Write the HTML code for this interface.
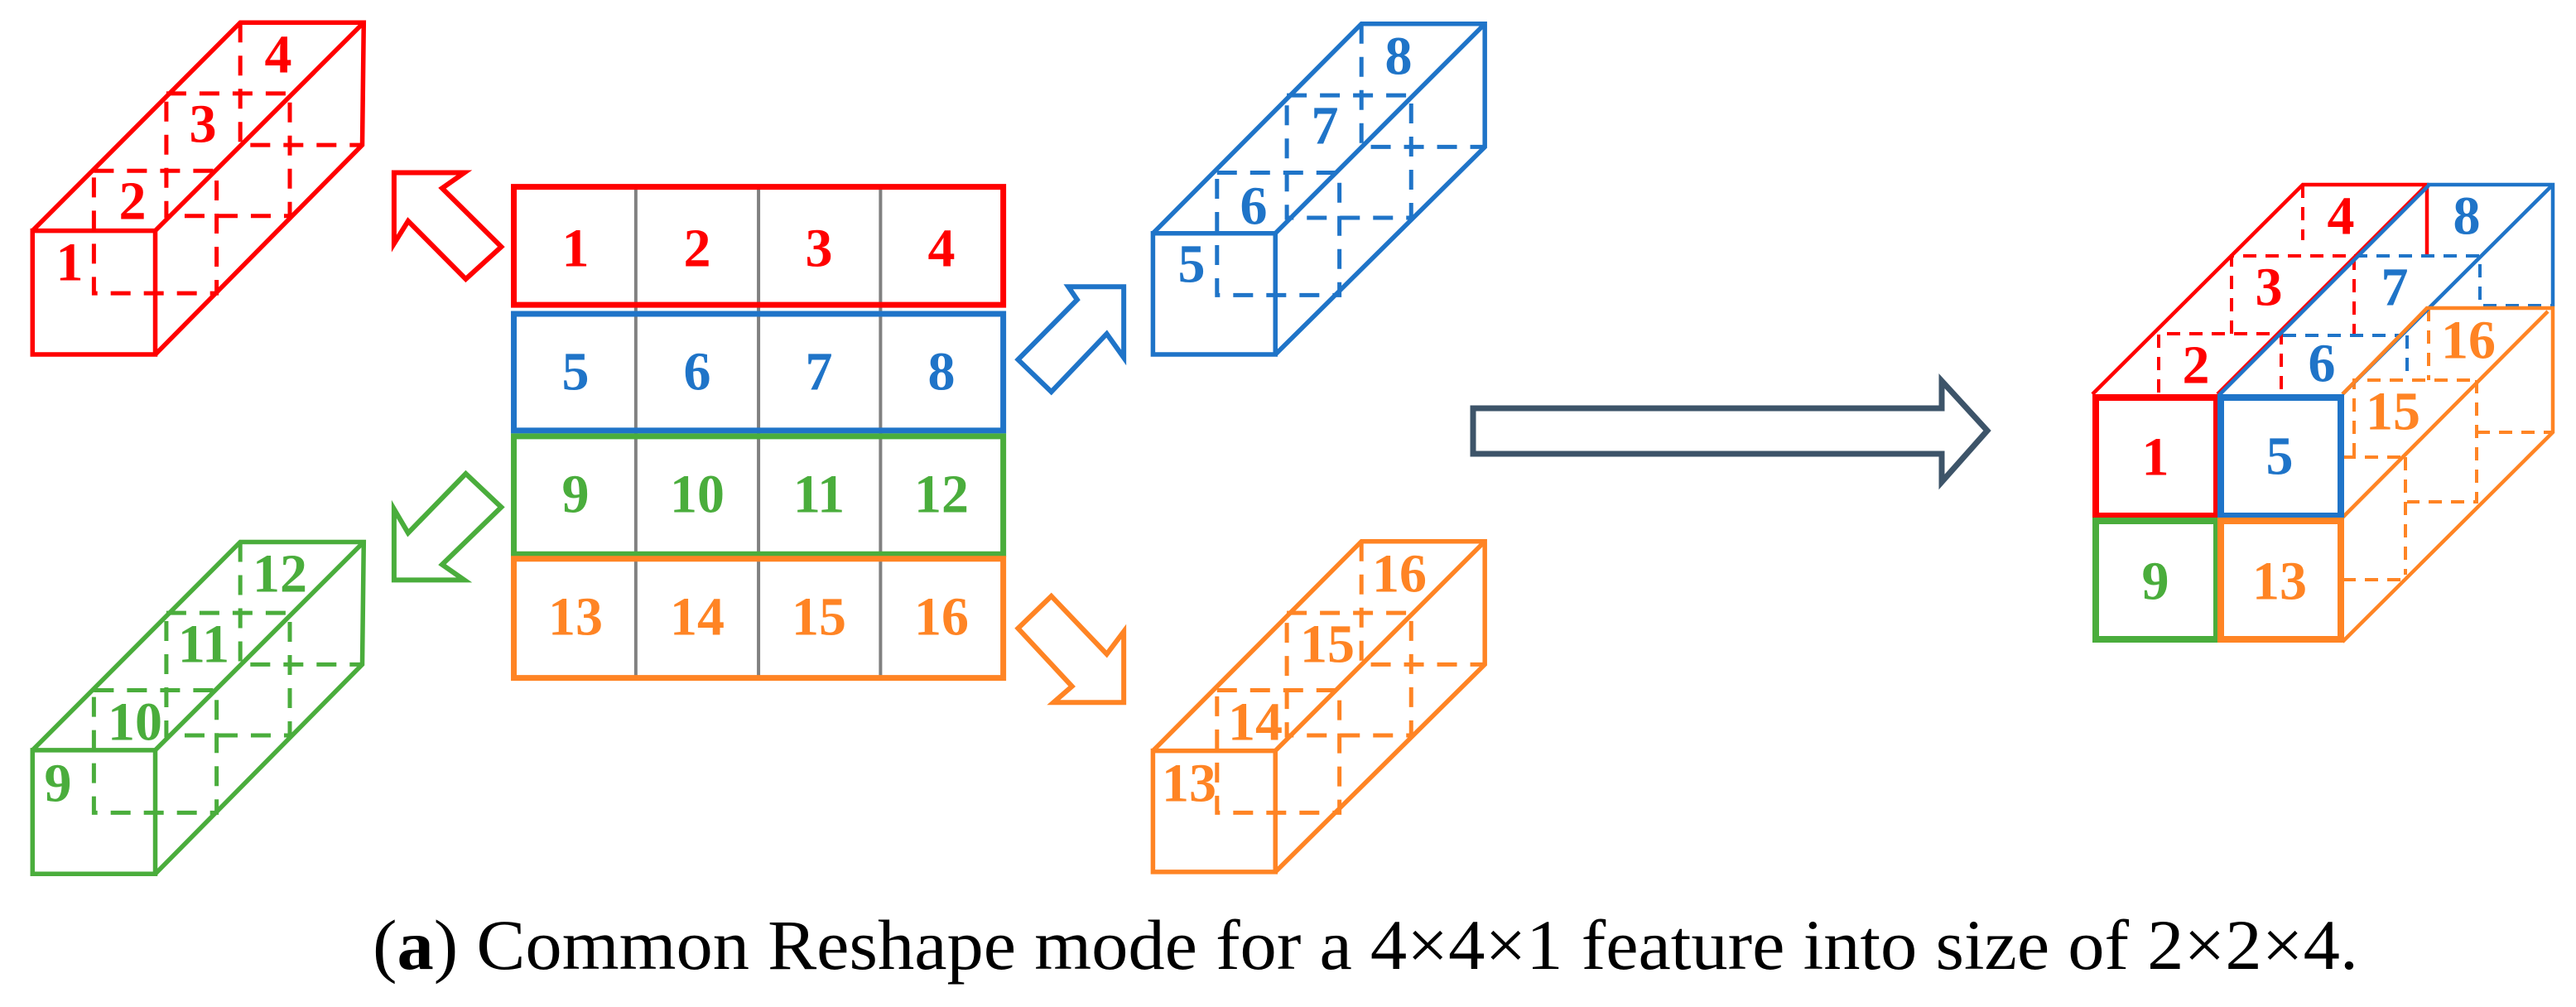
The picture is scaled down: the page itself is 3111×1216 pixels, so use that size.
<!DOCTYPE html>
<html><head><meta charset="utf-8"><style>html,body{margin:0;padding:0;background:#fff;}svg{display:block}
.lb{font-family:"Liberation Serif","DejaVu Serif",serif;font-weight:bold;font-size:66px;}
.cap{font-family:"Liberation Serif","DejaVu Serif",serif;font-size:86px;}
</style></head>
<body>
<svg width="3111" height="1216" viewBox="0 0 3111 1216" xmlns="http://www.w3.org/2000/svg">

<!-- LEFT PART (zoom1 coords) -->
<g transform="scale(0.89286,0.77821)" fill="none" stroke-linejoin="miter">
  <g stroke="#ff0000">
    <g stroke-width="5.5">
      <rect x="44" y="358" width="166" height="192" vector-effect="non-scaling-stroke"/>
      <polyline points="44,358 325,35 492,35 490,225 210,550" vector-effect="non-scaling-stroke"/>
      <line x1="210" y1="358" x2="492" y2="35" vector-effect="non-scaling-stroke"/>
    </g>
    <g stroke-width="5" stroke-dasharray="24 16">
      <rect x="127" y="265" width="166" height="190" vector-effect="non-scaling-stroke"/>
      <rect x="225" y="145" width="167" height="190" vector-effect="non-scaling-stroke"/>
      <polyline points="325,35 325,225 490,225" vector-effect="non-scaling-stroke"/>
    </g>
  </g>
  <g stroke="#4aad3c" transform="translate(0,806)">
    <g stroke-width="5.5">
      <rect x="44" y="358" width="166" height="192" vector-effect="non-scaling-stroke"/>
      <polyline points="44,358 325,35 492,35 490,225 210,550" vector-effect="non-scaling-stroke"/>
      <line x1="210" y1="358" x2="492" y2="35" vector-effect="non-scaling-stroke"/>
    </g>
    <g stroke-width="5" stroke-dasharray="24 16">
      <rect x="127" y="265" width="166" height="190" vector-effect="non-scaling-stroke"/>
      <rect x="225" y="145" width="167" height="190" vector-effect="non-scaling-stroke"/>
      <polyline points="325,35 325,225 490,225" vector-effect="non-scaling-stroke"/>
    </g>
  </g>
  <g stroke-width="6">
    <polygon stroke="#ff0000" points="533,268 628,268 598,292 678,383 630,433 552,343 533,378" vector-effect="non-scaling-stroke"/>
    <polygon stroke="#1f74c8" points="1520,445 1445,445 1457,465 1377,558 1422,608 1497,518 1520,555" vector-effect="non-scaling-stroke"/>
    <polygon stroke="#4aad3c" points="533,900 628,900 598,876 678,787 630,735 552,827 533,790" vector-effect="non-scaling-stroke"/>
    <polygon stroke="#ff8424" points="1520,1090 1425,1090 1450,1065 1377,975 1422,925 1497,1015 1520,980" vector-effect="non-scaling-stroke"/>
  </g>
  <g stroke="#808080" stroke-width="4">
    <line x1="860" y1="290" x2="860" y2="1052" vector-effect="non-scaling-stroke"/>
    <line x1="1026" y1="290" x2="1026" y2="1052" vector-effect="non-scaling-stroke"/>
    <line x1="1191" y1="290" x2="1191" y2="1052" vector-effect="non-scaling-stroke"/>
  </g>
  <g stroke-width="7">
    <rect x="695" y="290" width="662" height="183" stroke="#ff0000" vector-effect="non-scaling-stroke"/>
    <rect x="695" y="487" width="662" height="181" stroke="#1f74c8" vector-effect="non-scaling-stroke"/>
    <rect x="695" y="677" width="662" height="183" stroke="#4aad3c" vector-effect="non-scaling-stroke"/>
    <rect x="695" y="867" width="662" height="185" stroke="#ff8424" vector-effect="non-scaling-stroke"/>
  </g>
</g>

<!-- RIGHT-MIDDLE PART (zoom2 coords) -->
<g transform="translate(1300,0) scale(1.155,0.77821)" fill="none" stroke-linejoin="miter">
  <g stroke="#1f74c8">
    <g stroke-width="5.5">
      <rect x="80" y="362" width="128" height="188" vector-effect="non-scaling-stroke"/>
      <polyline points="80,362 298,37 427,37 427,228 208,550" vector-effect="non-scaling-stroke"/>
      <line x1="208" y1="362" x2="427" y2="37" vector-effect="non-scaling-stroke"/>
    </g>
    <g stroke-width="5" stroke-dasharray="24 16">
      <rect x="147" y="268" width="128" height="190" vector-effect="non-scaling-stroke"/>
      <rect x="220" y="148" width="130" height="190" vector-effect="non-scaling-stroke"/>
      <polyline points="298,37 298,228 427,228" vector-effect="non-scaling-stroke"/>
    </g>
  </g>
  <g stroke="#ff8424" transform="translate(0,803)">
    <g stroke-width="5.5">
      <rect x="80" y="362" width="128" height="188" vector-effect="non-scaling-stroke"/>
      <polyline points="80,362 298,37 427,37 427,228 208,550" vector-effect="non-scaling-stroke"/>
      <line x1="208" y1="362" x2="427" y2="37" vector-effect="non-scaling-stroke"/>
    </g>
    <g stroke-width="5" stroke-dasharray="24 16">
      <rect x="147" y="268" width="128" height="190" vector-effect="non-scaling-stroke"/>
      <rect x="220" y="148" width="130" height="190" vector-effect="non-scaling-stroke"/>
      <polyline points="298,37 298,228 427,228" vector-effect="non-scaling-stroke"/>
    </g>
  </g>
</g>

<polygon points="1779,493 2345,493 2345,460 2400,520 2345,582 2345,548 1779,548" fill="none" stroke="#3d5469" stroke-width="7"/>

<!-- FINAL BLOCK -->
<g fill="none" stroke-linejoin="miter">
  <g stroke-width="4" stroke-dasharray="16 11">
    <g stroke="#ff0000">
      <polyline points="2607,474 2607,403 2755,403 2755,472"/>
      <polyline points="2695,403 2695,309 2843,309 2843,403"/>
      <line x1="2781" y1="223" x2="2781" y2="290"/>
    </g>
    <g stroke="#1f74c8">
      <polyline points="2757,405 2901,405"/>
      <line x1="2907" y1="405" x2="2907" y2="455"/>
      <polyline points="2843,309 2995,309 2995,369 3083,369"/>
    </g>
    <g stroke="#ff8424">
      <polyline points="2843,551 2843,459 2995,459"/>
      <line x1="2933" y1="372" x2="2933" y2="459"/>
      <polyline points="2829,552 2907,552"/>
      <polyline points="2991,459 2991,606 2907,606"/>
      <line x1="2905" y1="552" x2="2905" y2="694"/>
      <line x1="2991" y1="522" x2="3083" y2="522"/>
      <line x1="2829" y1="700" x2="2905" y2="700"/>
    </g>
  </g>
  <g stroke-width="4.5">
    <polyline stroke="#ff0000" points="2527,476 2781,223 2931,223 2931,307"/>
    <line stroke="#ff0000" x1="2678" y1="476" x2="2931" y2="223"/>
    <line stroke="#1f74c8" x1="2680" y1="477" x2="2933" y2="224"/>
    <polyline stroke="#1f74c8" points="2931,223 3083,223 3083,370"/>
    <line stroke="#1f74c8" x1="2829" y1="476" x2="3083" y2="223"/>
    <polyline stroke="#ff8424" points="2829,476 2931,372 3083,372 3083,522 2829,775"/>
    <line stroke="#ff8424" x1="2829" y1="625" x2="3077" y2="376"/>
  </g>
  <g stroke-width="8">
    <rect x="2531" y="480" width="146" height="143" stroke="#ff0000"/>
    <rect x="2682" y="480" width="145" height="143" stroke="#1f74c8"/>
    <rect x="2531" y="629" width="146" height="143" stroke="#4aad3c"/>
    <rect x="2682" y="629" width="145" height="143" stroke="#ff8424"/>
  </g>
</g>

<!-- LABELS -->
<g class="lb" text-anchor="middle" dominant-baseline="central">
  <g fill="#ff0000">
    <text x="84" y="317">1</text><text x="160" y="243">2</text><text x="245" y="150">3</text><text x="336" y="66">4</text>
    <text x="695" y="300">1</text><text x="842" y="300">2</text><text x="989" y="300">3</text><text x="1137" y="300">4</text>
    <text x="2603" y="552">1</text><text x="2652" y="441">2</text><text x="2740" y="347">3</text><text x="2827" y="261">4</text>
  </g>
  <g fill="#1f74c8">
    <text x="695" y="449">5</text><text x="842" y="449">6</text><text x="989" y="449">7</text><text x="1137" y="449">8</text>
    <text x="1439" y="319">5</text><text x="1514" y="249">6</text><text x="1600" y="152">7</text><text x="1689" y="68">8</text>
    <text x="2753" y="551">5</text><text x="2804" y="439">6</text><text x="2892" y="347">7</text><text x="2979" y="261">8</text>
  </g>
  <g fill="#4aad3c">
    <text x="695" y="597">9</text><text x="842" y="597">10</text><text x="989" y="597">11</text><text x="1137" y="597">12</text>
    <text x="70" y="946">9</text><text x="163" y="872">10</text><text x="246" y="778">11</text><text x="338" y="693">12</text>
    <text x="2603" y="702">9</text>
  </g>
  <g fill="#ff8424">
    <text x="695" y="745">13</text><text x="842" y="745">14</text><text x="989" y="745">15</text><text x="1137" y="745">16</text>
    <text x="1436" y="946">13</text><text x="1516" y="872">14</text><text x="1603" y="778">15</text><text x="1690" y="693">16</text>
    <text x="2753" y="702">13</text><text x="2890" y="497">15</text><text x="2981" y="411">16</text>
  </g>
</g>

<text class="cap" x="450" y="1170" fill="#000" textLength="2398" lengthAdjust="spacingAndGlyphs">(<tspan font-weight="bold">a</tspan>) Common Reshape mode for a 4×4×1 feature into size of 2×2×4.</text>
</svg>
</body></html>
